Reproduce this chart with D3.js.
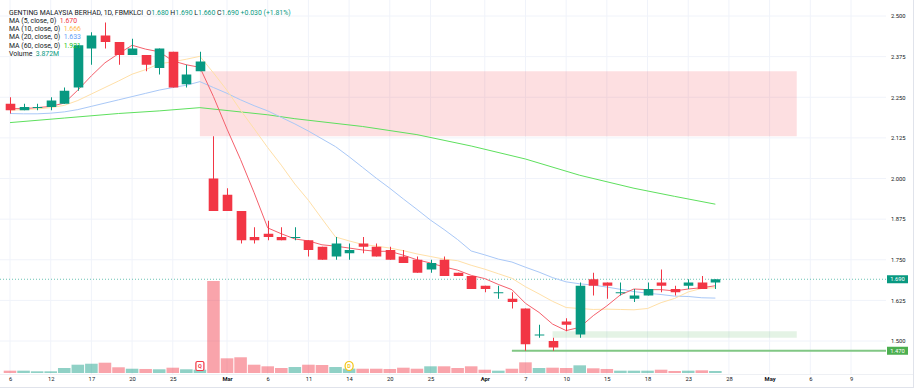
<!DOCTYPE html>
<html>
<head>
<meta charset="utf-8">
<script src="https://cdn.jsdelivr.net/npm/d3@7"></script>
<style>
  body { margin: 0; background: #fff; }
  text { font-family: Roboto, "DejaVu Sans", sans-serif; }
</style>
</head>
<body>
<div id="chart"></div>
<script>
const width = 918;
const height = 392;

// Daily bars, 6 Feb .. 25 Apr (trading days only)
const opens = [2.23, 2.21, 2.22, 2.22, 2.23, 2.28, 2.40, 2.44, 2.42, 2.38, 2.38, 2.34, 2.39, 2.29, 2.33, 2.00, 1.95, 1.90, 1.82, 1.83, 1.82, 1.82, 1.81, 1.79, 1.76, 1.77, 1.80, 1.79, 1.78, 1.76, 1.75, 1.72, 1.75, 1.71, 1.70, 1.67, 1.65, 1.63, 1.60, 1.52, 1.50, 1.56, 1.52, 1.69, 1.68, 1.65, 1.63, 1.64, 1.68, 1.66, 1.67, 1.68, 1.68];
const highs = [2.25, 2.23, 2.23, 2.25, 2.28, 2.41, 2.45, 2.48, 2.42, 2.43, 2.38, 2.40, 2.39, 2.35, 2.39, 2.13, 1.97, 1.90, 1.85, 1.87, 1.85, 1.85, 1.81, 1.79, 1.82, 1.80, 1.82, 1.80, 1.79, 1.78, 1.76, 1.75, 1.76, 1.71, 1.70, 1.67, 1.67, 1.65, 1.60, 1.55, 1.51, 1.57, 1.68, 1.71, 1.68, 1.68, 1.66, 1.68, 1.72, 1.67, 1.69, 1.70, 1.69];
const lows = [2.20, 2.21, 2.21, 2.21, 2.23, 2.27, 2.35, 2.40, 2.35, 2.38, 2.33, 2.32, 2.28, 2.28, 2.33, 1.90, 1.90, 1.80, 1.80, 1.81, 1.81, 1.81, 1.76, 1.75, 1.75, 1.75, 1.77, 1.76, 1.75, 1.74, 1.71, 1.71, 1.70, 1.70, 1.66, 1.65, 1.63, 1.60, 1.47, 1.51, 1.47, 1.53, 1.51, 1.64, 1.63, 1.64, 1.62, 1.64, 1.65, 1.64, 1.66, 1.66, 1.66];
const closes = [2.21, 2.22, 2.22, 2.24, 2.27, 2.41, 2.44, 2.42, 2.38, 2.40, 2.35, 2.40, 2.28, 2.32, 2.36, 1.90, 1.90, 1.81, 1.81, 1.82, 1.81, 1.82, 1.78, 1.75, 1.80, 1.78, 1.79, 1.76, 1.75, 1.74, 1.71, 1.74, 1.70, 1.70, 1.66, 1.66, 1.65, 1.62, 1.49, 1.52, 1.48, 1.55, 1.67, 1.67, 1.67, 1.65, 1.64, 1.66, 1.67, 1.65, 1.68, 1.66, 1.69];
// volume in millions
const volumes = [4.5, 4.5, 3.3, 3.3, 9.7, 16.1, 18.0, 20.0, 11.1, 8.3, 7.8, 7.2, 10.3, 7.2, 6.4, 178.5, 28.5, 30.5, 16.1, 13.0, 9.7, 11.6, 16.1, 15.5, 11.6, 8.5, 8.3, 8.3, 7.8, 10.3, 8.3, 13.0, 13.0, 9.7, 13.0, 6.4, 4.5, 8.3, 20.7, 9.7, 10.3, 9.7, 14.9, 9.1, 7.8, 4.5, 4.5, 4.5, 6.4, 3.9, 4.5, 5.2, 3.872];

// moving averages as shown
const ma5 = [2.215, 2.215, 2.218, 2.222, 2.232, 2.272, 2.316, 2.356, 2.384, 2.41, 2.398, 2.39, 2.362, 2.35, 2.342, 2.252, 2.152, 2.058, 1.956, 1.848, 1.83, 1.814, 1.808, 1.796, 1.792, 1.786, 1.78, 1.776, 1.776, 1.764, 1.75, 1.74, 1.728, 1.718, 1.702, 1.692, 1.674, 1.658, 1.616, 1.588, 1.552, 1.532, 1.542, 1.578, 1.608, 1.642, 1.66, 1.658, 1.658, 1.654, 1.66, 1.664, 1.67];
const ma10 = [2.210, 2.212, 2.214, 2.218, 2.225, 2.240, 2.260, 2.280, 2.300, 2.321, 2.335, 2.353, 2.359, 2.367, 2.376, 2.325, 2.271, 2.21, 2.153, 2.095, 2.041, 1.983, 1.933, 1.876, 1.82, 1.808, 1.797, 1.792, 1.786, 1.778, 1.768, 1.76, 1.752, 1.747, 1.733, 1.721, 1.707, 1.693, 1.667, 1.645, 1.622, 1.603, 1.60, 1.597, 1.598, 1.597, 1.596, 1.60, 1.618, 1.631, 1.651, 1.662, 1.664];
const ma20 = [2.200, 2.199, 2.199, 2.201, 2.205, 2.212, 2.222, 2.232, 2.242, 2.252, 2.262, 2.272, 2.280, 2.287, 2.298, 2.280, 2.262, 2.242, 2.224, 2.208, 2.188, 2.168, 2.146, 2.122, 2.098, 2.067, 2.034, 2.001, 1.970, 1.937, 1.905, 1.872, 1.843, 1.812, 1.777, 1.765, 1.752, 1.743, 1.727, 1.712, 1.695, 1.682, 1.676, 1.672, 1.666, 1.659, 1.652, 1.647, 1.643, 1.638, 1.637, 1.633, 1.632];
const ma60Bars = [0, 4, 8, 11, 14, 19, 21, 26, 30, 34, 38, 42, 46, 49, 52];
const ma60 = [2.172, 2.186, 2.200, 2.208, 2.218, 2.196, 2.184, 2.160, 2.135, 2.100, 2.060, 2.010, 1.970, 1.945, 1.921];

// x-axis ticks (bar index -> label)
const tickBars = [0, 3, 6, 9, 12, 16, 19, 22, 25, 28, 31, 35, 38, 41, 44, 47, 50, 53, 56, 59, 62];
const tickLabels = ["6", "12", "17", "20", "25", "Mar", "6", "11", "14", "20", "25", "Apr", "7", "10", "15", "18", "23", "28", "May", "6", "9"];
const monthLabels = ["Mar", "Apr", "May"];
const priceTicks = [1.5, 1.625, 1.75, 1.875, 2.0, 2.125, 2.25, 2.375, 2.5];

// zones and levels
const gapZone = { from: 14, to: 58, top: 2.33, bottom: 2.13 };
const supportZone = { from: 40, to: 58, top: 1.53, bottom: 1.51 };
const supportLevel = { from: 37, price: 1.47 };
const lastPrice = 1.69;
const markers = [{ bar: 14, letter: "Q", color: "#f23645" }, { bar: 25, letter: "D", color: "#f5c518" }];

const up = "#089981";
const down = "#f23645";
const plotRight = 886;

const x = d3.scaleLinear().domain([0, 62]).range([10, 851]);
const y = d3.scaleLinear().domain([1.5, 2.5]).range([341, 16]);
const yVol = d3.scaleLinear().domain([0, d3.max(volumes)]).range([373, 281]);
const step = x(1) - x(0);

const svg = d3.select("#chart").append("svg")
  .attr("width", width).attr("height", height);

// grid
svg.append("g")
  .selectAll("line.h")
  .data(priceTicks)
  .join("line")
  .attr("x1", 0).attr("x2", plotRight)
  .attr("y1", d => y(d)).attr("y2", d => y(d))
  .attr("stroke", "#f0f3fa");
svg.append("g")
  .selectAll("line.v")
  .data(tickBars)
  .join("line")
  .attr("x1", d => x(d)).attr("x2", d => x(d))
  .attr("y1", 0).attr("y2", 374)
  .attr("stroke", "#f0f3fa");

// zones
svg.append("rect")
  .attr("x", x(gapZone.from)).attr("width", x(gapZone.to) - x(gapZone.from))
  .attr("y", y(gapZone.top)).attr("height", y(gapZone.bottom) - y(gapZone.top))
  .attr("fill", "rgba(242,54,69,0.16)");
svg.append("rect")
  .attr("x", x(supportZone.from)).attr("width", x(supportZone.to) - x(supportZone.from))
  .attr("y", y(supportZone.top)).attr("height", y(supportZone.bottom) - y(supportZone.top))
  .attr("fill", "rgba(76,175,80,0.15)");

// volume
const bars = d3.range(closes.length);
svg.append("g")
  .selectAll("rect")
  .data(bars)
  .join("rect")
  .attr("x", i => x(i) - step / 2 + 0.5)
  .attr("width", step - 1)
  .attr("y", i => yVol(volumes[i]))
  .attr("height", i => yVol(0) - yVol(volumes[i]))
  .attr("fill", i => closes[i] >= opens[i] ? "rgba(8,153,129,0.45)" : "rgba(242,54,69,0.45)");

// support level
svg.append("line")
  .attr("x1", x(supportLevel.from)).attr("x2", plotRight)
  .attr("y1", y(supportLevel.price)).attr("y2", y(supportLevel.price))
  .attr("stroke", "#81c784").attr("stroke-width", 2);

// last price line
svg.append("line")
  .attr("x1", 0).attr("x2", plotRight)
  .attr("y1", y(lastPrice)).attr("y2", y(lastPrice))
  .attr("stroke", up).attr("stroke-opacity", 0.6)
  .attr("stroke-dasharray", "1,2");

// moving averages
const line = d3.line().x(d => x(d[0])).y(d => y(d[1]));
const maSeries = [
  { pts: ma60.map((v, k) => [ma60Bars[k], v]), color: "#5ee05e" },
  { pts: ma20.map((v, i) => [i, v]), color: "#a9c8f7" },
  { pts: ma10.map((v, i) => [i, v]), color: "#ffe0a8" },
  { pts: ma5.map((v, i) => [i, v]), color: "#f5606c" }
];
svg.append("g")
  .selectAll("path")
  .data(maSeries)
  .join("path")
  .attr("d", d => line(d.pts))
  .attr("fill", "none")
  .attr("stroke", d => d.color)
  .attr("stroke-width", 1);

// candles
const candles = svg.append("g")
  .selectAll("g")
  .data(bars)
  .join("g");
candles.append("line")
  .attr("x1", i => Math.round(x(i)) + 0.5).attr("x2", i => Math.round(x(i)) + 0.5)
  .attr("y1", i => y(highs[i])).attr("y2", i => y(lows[i]))
  .attr("stroke", i => closes[i] >= opens[i] ? up : down);
candles.append("rect")
  .attr("x", i => Math.round(x(i)) + 0.5 - 4.8)
  .attr("width", 9.6)
  .attr("y", i => y(Math.max(opens[i], closes[i])))
  .attr("height", i => Math.max(1, y(Math.min(opens[i], closes[i])) - y(Math.max(opens[i], closes[i]))))
  .attr("fill", i => closes[i] >= opens[i] ? up : down);

// event markers
const mk = svg.append("g")
  .selectAll("g")
  .data(markers)
  .join("g")
  .attr("transform", d => `translate(${x(d.bar)},366)`);
mk.append("rect")
  .attr("x", -4).attr("y", -4.5).attr("width", 8).attr("height", 9)
  .attr("rx", d => d.letter === "D" ? 4 : 1.5)
  .attr("fill", "#fff")
  .attr("stroke", d => d.color).attr("stroke-width", 1.2);
mk.append("text")
  .attr("text-anchor", "middle").attr("dy", "0.35em")
  .attr("font-size", 5.5).attr("font-weight", "bold")
  .attr("fill", d => d.color)
  .text(d => d.letter);

// price axis
const yAxis = d3.axisRight(y).tickValues(priceTicks).tickSize(0).tickPadding(0).tickFormat(d3.format(".3f"));
svg.append("g")
  .attr("transform", "translate(891,0)")
  .call(yAxis)
  .call(g => g.select(".domain").remove())
  .call(g => g.selectAll("text").attr("font-size", 5.8).attr("fill", "#131722").style("font-family", "Roboto, sans-serif"));

// price labels
const priceTags = [{ price: lastPrice, color: up }, { price: supportLevel.price, color: "#4caf50" }];
const tags = svg.append("g")
  .selectAll("g")
  .data(priceTags)
  .join("g")
  .attr("transform", d => `translate(887,${y(d.price)})`);
tags.append("rect").attr("x", 0).attr("y", -4).attr("width", 21).attr("height", 8).attr("fill", d => d.color);
tags.append("text")
  .attr("x", 10.5).attr("dy", "0.35em").attr("text-anchor", "middle")
  .attr("font-size", 5.8).attr("fill", "#fff")
  .text(d => d3.format(".3f")(d.price));

// time axis
const xAxis = d3.axisBottom(x).tickValues(tickBars).tickSize(0).tickPadding(0)
  .tickFormat((d, k) => tickLabels[k]);
svg.append("g")
  .attr("transform", "translate(0,377)")
  .call(xAxis)
  .call(g => g.select(".domain").remove())
  .call(g => g.selectAll("text")
    .attr("font-size", 5.8).attr("fill", "#131722")
    .attr("font-weight", t => monthLabels.includes(tickLabels[tickBars.indexOf(t)]) ? "bold" : "normal")
    .style("font-family", "Roboto, sans-serif"));

// frame
svg.append("line").attr("x1", 0).attr("x2", 913).attr("y1", 374.5).attr("y2", 374.5).attr("stroke", "#eef0f4");
svg.append("line").attr("x1", 0).attr("x2", 913).attr("y1", 387.5).attr("y2", 387.5).attr("stroke", "#e0e3eb");
svg.append("line").attr("x1", 913.5).attr("x2", 913.5).attr("y1", 0).attr("y2", 388).attr("stroke", "#e0e3eb");

// legend
const legendRows = [
  { parts: [["GENTING MALAYSIA BERHAD, 1D, FBMKLCI  ", "#131722"], ["O", "#131722"], ["1.680 ", up], ["H", "#131722"], ["1.690 ", up], ["L", "#131722"], ["1.660 ", up], ["C", "#131722"], ["1.690 ", up], ["+0.030 (+1.81%)", up]] },
  { parts: [["MA (5, close, 0)  ", "#131722"], ["1.670", "#f23645"]] },
  { parts: [["MA (10, close, 0)  ", "#131722"], ["1.666", "#ffb74d"]] },
  { parts: [["MA (20, close, 0)  ", "#131722"], ["1.633", "#5b9cf6"]] },
  { parts: [["MA (60, close, 0)  ", "#131722"], ["1.921", "#22c322"]] },
  { parts: [["Volume  ", "#131722"], ["3.872M", up]] }
];
const legend = svg.append("g");
legendRows.forEach((row, r) => {
  const t = legend.append("text")
    .attr("x", 9).attr("y", 12.7 + r * 8.1).attr("dy", "0.35em")
    .attr("font-size", 6.9)
    .attr("xml:space", "preserve")
    .style("white-space", "pre");
  row.parts.forEach(p => t.append("tspan").attr("fill", p[1]).text(p[0]));
});
</script>
</body>
</html>
